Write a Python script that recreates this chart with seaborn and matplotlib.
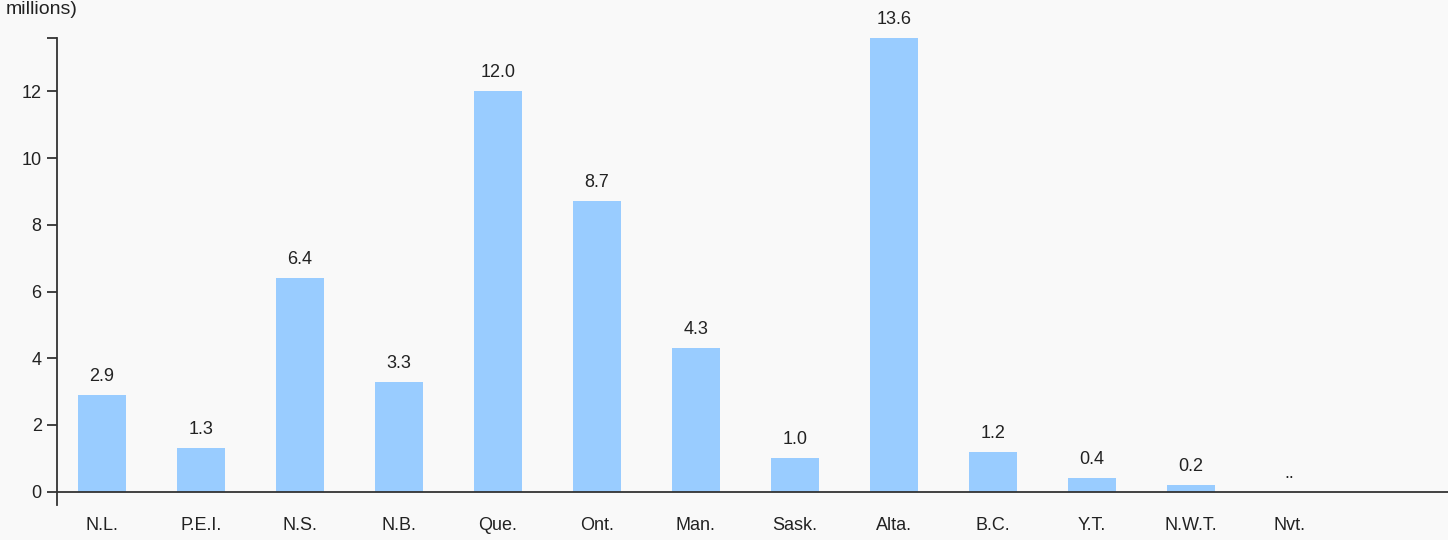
import matplotlib
matplotlib.use("Agg")
import matplotlib.pyplot as plt
import seaborn as sns
import pandas as pd

# data
provinces = ['N.L.', 'P.E.I.', 'N.S.', 'N.B.', 'Que.', 'Ont.', 'Man.',
             'Sask.', 'Alta.', 'B.C.', 'Y.T.', 'N.W.T.', 'Nvt.']
values = [2.9, 1.3, 6.4, 3.3, 12.0, 8.7, 4.3, 1.0, 13.6, 1.2, 0.4, 0.2, 0.0]
labels = ['2.9', '1.3', '6.4', '3.3', '12.0', '8.7', '4.3', '1.0', '13.6',
          '1.2', '0.4', '0.2', '..']
yticks = [0, 2, 4, 6, 8, 10, 12]

df = pd.DataFrame({'province': provinces, 'value': values})

sns.set_style("white")
plt.rcParams['font.family'] = ['Liberation Sans', 'DejaVu Sans']

bg = '#f9f9f9'
fig = plt.figure(figsize=(14.48, 5.4), dpi=100, facecolor=bg)
# axes spans from y-axis top cap (px 38) down to the stub below zero (px 505)
ax = fig.add_axes([57 / 1448, 35 / 540, 1 - 57 / 1448, 467 / 540])
ax.set_facecolor(bg)

sns.barplot(data=df, x='province', y='value', color='#99ccff',
            saturation=1, width=0.485, linewidth=0, ax=ax)

for i, (v, lab) in enumerate(zip(values, labels)):
    ax.text(i, v + 0.3, lab, ha='center', va='bottom', fontsize=13,
            color='#222222')

ax.set_xlim(-0.455, 13.6)
ax.set_ylim(-0.4, 13.6)
ax.spines['top'].set_visible(False)
ax.spines['right'].set_visible(False)
ax.spines['bottom'].set_position(('data', 0))
for s in ['left', 'bottom']:
    ax.spines[s].set_color('#333333')
    ax.spines[s].set_linewidth(1.3)

ax.set_yticks(yticks)
ax.set_yticks([13.6], minor=True)
ax.tick_params(axis='y', which='both', length=7, width=1.3, color='#333333',
               labelsize=13, labelcolor='#222222', left=True, pad=4)
ax.tick_params(axis='x', length=0, labelsize=13, labelcolor='#222222', pad=18)
ax.set_xlabel('')
ax.set_ylabel('')

fig.text(0.004, 526 / 540, 'millions)', ha='left', va='baseline',
         fontsize=14, color='#222222')

fig.savefig('out.png', dpi=100, facecolor=bg)
